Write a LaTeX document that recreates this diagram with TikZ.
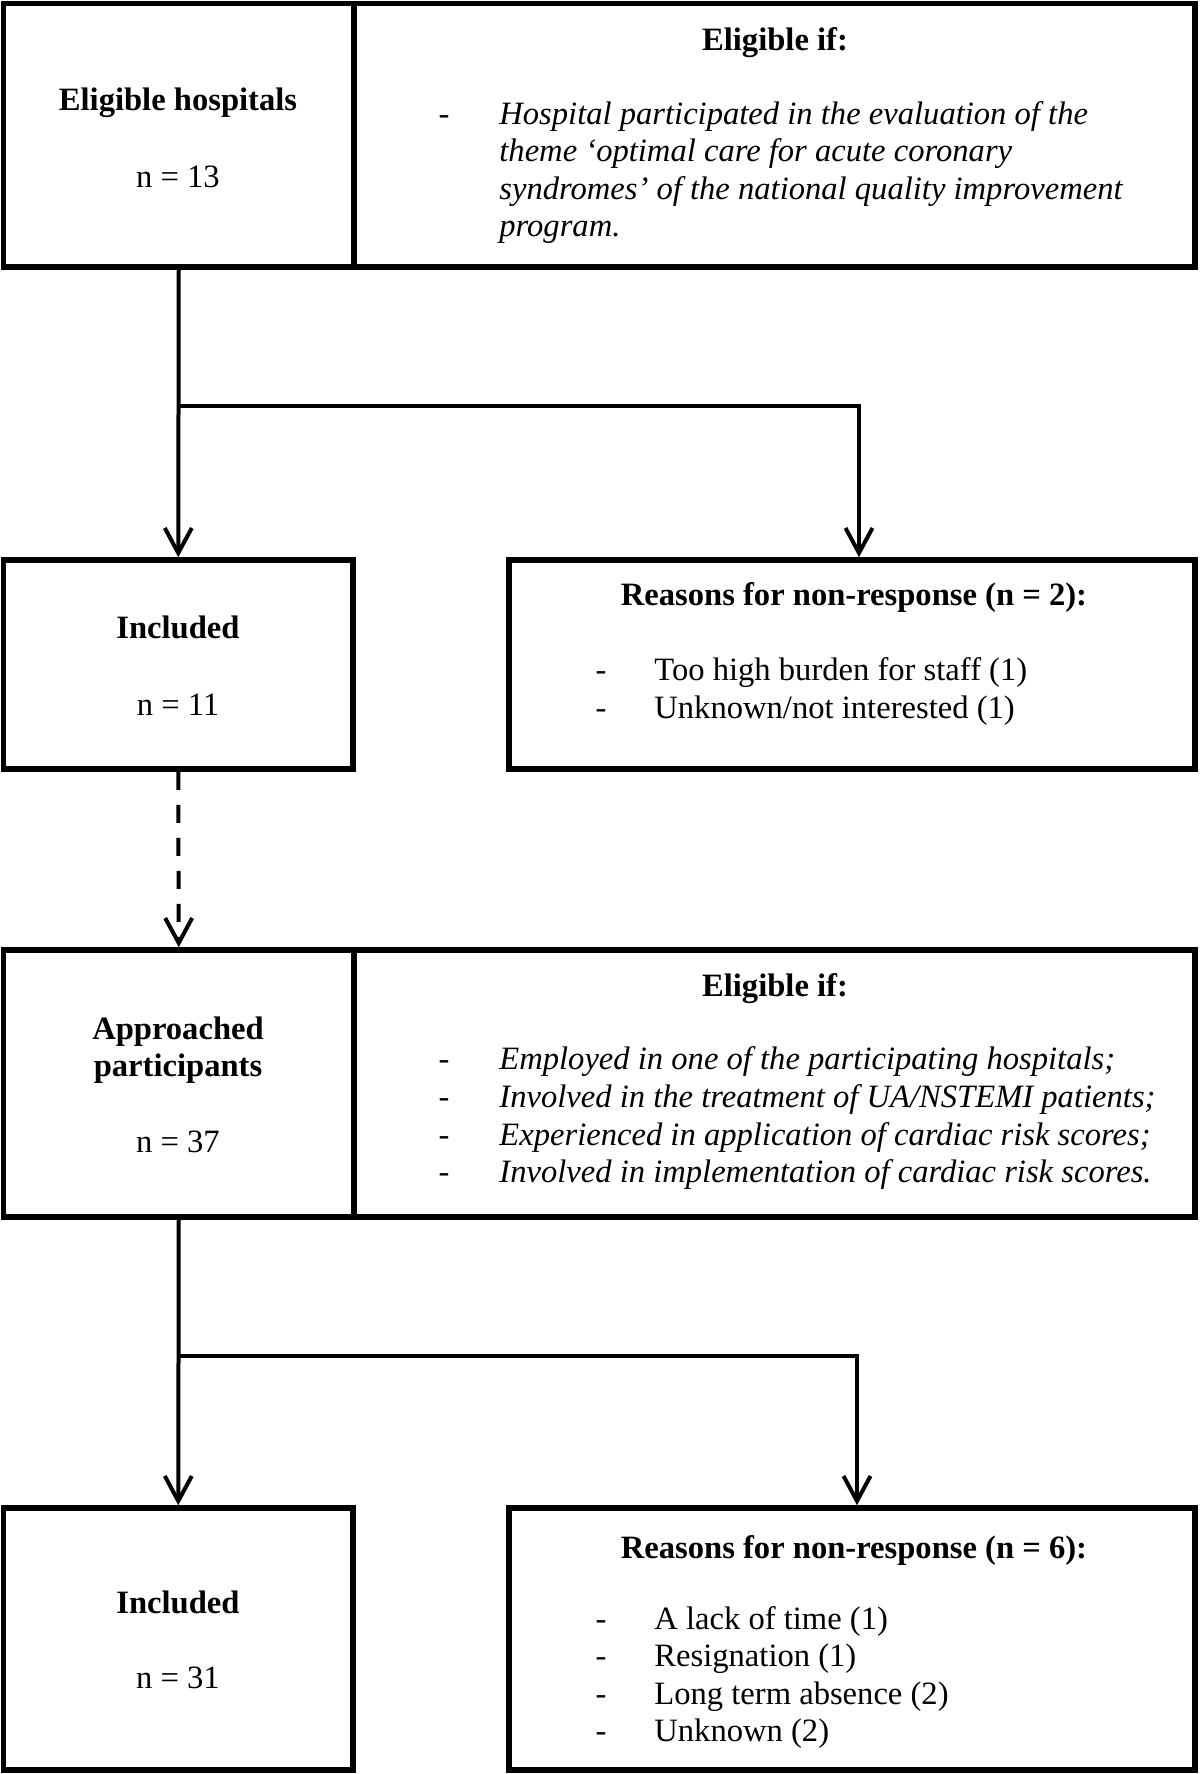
\documentclass[tikz,border=0pt]{standalone}
\usepackage{fontspec}
\setmainfont{Liberation Serif}
\usetikzlibrary{arrows.meta,fit}
\begin{document}
\begin{tikzpicture}[x=0.5pt,y=-0.5pt,
  box/.style={draw, line width=2.8pt, inner sep=0pt, rectangle},
  conn/.style={line width=2pt},
  arr/.style={conn, -{Straight Barb[length=12.5pt,width=13.5pt]}},
  txt/.style={inner sep=0pt, font=\fontsize{16.3}{19}\selectfont},
  hd/.style={txt, font=\fontsize{16.3}{19}\selectfont\bfseries, anchor=base},
  num/.style={txt, anchor=base},
  dashmark/.style={txt, anchor=base},
  item/.style={txt, anchor=base west},
  itemit/.style={txt, anchor=base west, font=\fontsize{16.3}{19}\selectfont\itshape}
]
\useasboundingbox (0,0) rectangle (1200,1774);

% boxes
\node[box, fit={(3.5,3.5) (354,267)}] (b1l) {};
\node[box, fit={(354,3.5) (1195,267)}] (b1r) {};
\node[box, fit={(3.5,560) (353,769)}] (b2l) {};
\node[box, fit={(509,560) (1195,769)}] (b2r) {};
\node[box, fit={(3.5,950) (354,1217)}] (b3l) {};
\node[box, fit={(354,950) (1195,1217)}] (b3r) {};
\node[box, fit={(3.5,1508) (353,1770)}] (b4l) {};
\node[box, fit={(509,1508) (1195,1770)}] (b4r) {};

% box 1
\node[hd] (t1a) at (178,110) {Eligible hospitals};
\node[num] (t1b) at (178,187) {n = 13};
\node[hd] (t1c) at (775,50) {Eligible if:};
\node[dashmark] (d1a) at (444,124) {-};
\node[itemit] (i1a) at (499,124) {Hospital participated in the evaluation of the};
\node[itemit] (i1b) at (499,161) {theme ‘optimal care for acute coronary};
\node[itemit] (i1c) at (499,199) {syndromes’ of the national quality improvement};
\node[itemit] (i1d) at (499,236) {program.};

% box 2
\node[hd] (t2a) at (178,638) {Included};
\node[num] (t2b) at (178,715) {n = 11};
\node[hd] (t2c) at (854,605) {Reasons for non-response (n = 2):};
\node[dashmark] (d2a) at (601,680) {-};
\node[item] (i2a) at (654,680) {Too high burden for staff (1)};
\node[dashmark] (d2b) at (601,718) {-};
\node[item] (i2b) at (654,718) {Unknown/not interested (1)};

% box 3
\node[hd] (t3a) at (178,1039) {Approached};
\node[hd] (t3b) at (178,1076) {participants};
\node[num] (t3c) at (178,1152) {n = 37};
\node[hd] (t3d) at (775,996) {Eligible if:};
\node[dashmark] (d3a) at (444,1069) {-};
\node[itemit] (i3a) at (499,1069) {Employed in one of the participating hospitals;};
\node[dashmark] (d3b) at (444,1107) {-};
\node[itemit] (i3b) at (499,1107) {Involved in the treatment of UA/NSTEMI patients;};
\node[dashmark] (d3c) at (444,1145) {-};
\node[itemit] (i3c) at (499,1145) {Experienced in application of cardiac risk scores;};
\node[dashmark] (d3d) at (444,1182) {-};
\node[itemit] (i3d) at (499,1182) {Involved in implementation of cardiac risk scores.};

% box 4
\node[hd] (t4a) at (178,1613) {Included};
\node[num] (t4b) at (178,1688) {n = 31};
\node[hd] (t4c) at (854,1558) {Reasons for non-response (n = 6):};
\node[dashmark] (d4a) at (601,1629) {-};
\node[item] (i4a) at (654,1629) {A lack of time (1)};
\node[dashmark] (d4b) at (601,1666) {-};
\node[item] (i4b) at (654,1666) {Resignation (1)};
\node[dashmark] (d4c) at (601,1704) {-};
\node[item] (i4c) at (654,1704) {Long term absence (2)};
\node[dashmark] (d4d) at (601,1741) {-};
\node[item] (i4d) at (654,1741) {Unknown (2)};

% connectors
\coordinate (j1) at (178.75,406);
\coordinate (j1r) at (859,406);
\draw[arr] (b1l.south) -- (b2l.north);
\draw[arr] (j1) -- (j1r) -- (j1r |- b2r.north);
\draw[arr, dash pattern=on 9pt off 7.5pt] (b2l.south) -- (b3l.north);
\coordinate (j2) at (178.75,1356);
\coordinate (j2r) at (857,1356);
\draw[arr] (b3l.south) -- (b4l.north);
\draw[arr] (j2) -- (j2r) -- (j2r |- b4r.north);
\end{tikzpicture}
\end{document}
